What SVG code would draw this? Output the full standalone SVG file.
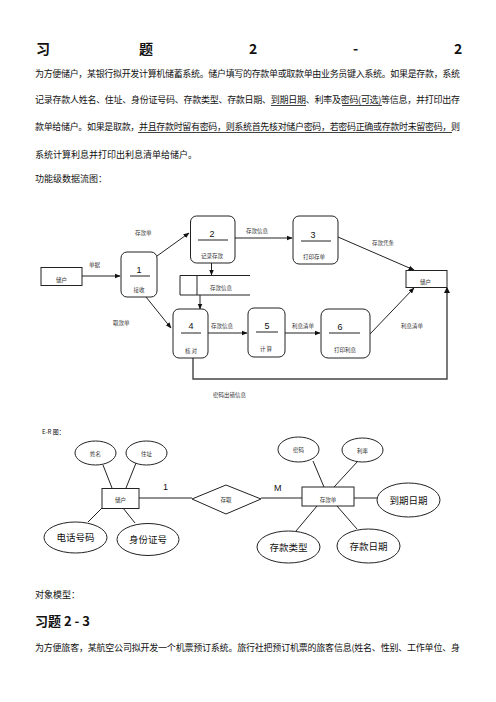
<svg xmlns="http://www.w3.org/2000/svg" width="496" height="702" viewBox="0 0 496 702">
<defs>
<style>
.t{font-family:"Noto Sans CJK SC","Noto Sans",sans-serif;fill:#111}
.p{font-size:9px}
.h{font-size:14px;font-weight:bold}
.s{font-size:5.5px;fill:#333}
.n{font-family:"Liberation Sans",sans-serif;font-size:9px;fill:#111}
.b{fill:#fff;stroke:#222;stroke-width:1}
.l{fill:none;stroke:#222;stroke-width:1}
.u{stroke:#111;stroke-width:0.8}
.e{font-size:9.5px}
</style>
<marker id="ah" viewBox="0 0 10 10" refX="9" refY="5" markerWidth="6" markerHeight="6" orient="auto">
<path d="M0,1 L10,5 L0,9 z" fill="#111"/>
</marker>
</defs>
<rect width="496" height="702" fill="#fff"/>

<g id="title">
<text class="t h" x="36" y="54">习</text>
<text class="t h" x="139" y="54">题</text>
<text class="t h" x="249" y="54">2</text>
<text class="t h" x="353" y="54">-</text>
<text class="t h" x="454" y="54">2</text>
</g>

<g id="para">
<text class="t p" x="35" y="77" textLength="425" lengthAdjust="spacing">为方便储户，某银行拟开发计算机储蓄系统。储户填写的存款单或取款单由业务员键入系统。如果是存款，系统</text>
<text class="t p" x="35" y="103" textLength="425" lengthAdjust="spacing">记录存款人姓名、住址、身份证号码、存款类型、存款日期、到期日期、利率及密码(可选)等信息，并打印出存</text>
<text class="t p" x="35" y="130" textLength="425" lengthAdjust="spacing">款单给储户。如果是取款，并且存款时留有密码，则系统首先核对储户密码，若密码正确或存款时未留密码，则</text>
<text class="t p" x="35" y="158">系统计算利息并打印出利息清单给储户。</text>
<text class="t p" x="35" y="182">功能级数据流图：</text>
<line class="u" x1="271" y1="105.5" x2="306" y2="105.5"/>
<line class="u" x1="342" y1="105.5" x2="382" y2="105.5"/>
<line class="u" x1="138" y1="132.5" x2="452" y2="132.5"/>
</g>

<g id="connectors">
<line class="l" x1="82" y1="276" x2="120" y2="276" marker-end="url(#ah)"/>
<text class="t s" x="89" y="267">单据</text>
<line class="l" x1="157" y1="256" x2="189" y2="233" marker-end="url(#ah)"/>
<text class="t s" x="135" y="235">存款单</text>
<line class="l" x1="235" y1="238" x2="292" y2="238" marker-end="url(#ah)"/>
<text class="t s" x="246" y="233">存款信息</text>
<line class="l" x1="338" y1="237" x2="414" y2="270" marker-end="url(#ah)"/>
<text class="t s" x="372" y="245">存款凭条</text>
<line class="l" x1="211.5" y1="263" x2="211.5" y2="275" marker-end="url(#ah)"/>
<line class="l" x1="200" y1="295" x2="200" y2="309" marker-end="url(#ah)"/>
<line class="l" x1="146" y1="297" x2="171" y2="328" marker-end="url(#ah)"/>
<text class="t s" x="113" y="325">取款单</text>
<line class="l" x1="208" y1="333" x2="247" y2="333" marker-end="url(#ah)"/>
<text class="t s" x="211" y="328">存款信息</text>
<line class="l" x1="285" y1="333" x2="320" y2="333" marker-end="url(#ah)"/>
<text class="t s" x="292" y="328">利息清单</text>
<line class="l" x1="370" y1="334" x2="414" y2="288" marker-end="url(#ah)"/>
<text class="t s" x="401" y="328">利息清单</text>
<polyline fill="none" stroke="#444" stroke-width="1.4" points="193,358 193,379 447,379 447,288"/>
<path d="M444,293 L447,287 L450,293 z" fill="#111"/>
<text class="t s" x="213" y="397">密码出错信息</text>
</g>

<g id="ext-left">
<rect class="b" x="41" y="267.5" width="41" height="18"/>
<text class="t s" x="61.5" y="282" text-anchor="middle">储户</text>
</g>
<g id="p1">
<rect class="b" x="121" y="252" width="36" height="45" rx="6"/>
<text class="n" x="139" y="273" text-anchor="middle">1</text>
<line class="l" x1="130" y1="276" x2="150" y2="276"/>
<text class="t s" x="139" y="292" text-anchor="middle">接收</text>
</g>
<g id="p2">
<rect class="b" x="190.5" y="216" width="44.5" height="47" rx="6"/>
<text class="n" x="212" y="237" text-anchor="middle">2</text>
<line class="l" x1="198" y1="240" x2="228" y2="240"/>
<text class="t s" x="212" y="258" text-anchor="middle">记录存款</text>
</g>
<g id="p3">
<rect class="b" x="293" y="216" width="45" height="48" rx="6"/>
<text class="n" x="313" y="238" text-anchor="middle">3</text>
<line class="l" x1="301" y1="241" x2="331" y2="241"/>
<text class="t s" x="314" y="259" text-anchor="middle">打印存单</text>
</g>
<g id="ext-right">
<rect class="b" x="406" y="270.5" width="41" height="17"/>
<text class="t s" x="420" y="284">储户</text>
</g>
<g id="store">
<polyline class="l" points="250,275.5 180,275.5 180,295 250,295"/>
<line class="l" x1="197" y1="275.5" x2="197" y2="295"/>
<text class="t s" x="210" y="290">存款信息</text>
</g>
<g id="p4">
<rect class="b" x="173" y="309" width="35" height="49" rx="6"/>
<text class="n" x="191" y="329" text-anchor="middle">4</text>
<line class="l" x1="181" y1="333" x2="201" y2="333"/>
<text class="t s" x="191" y="353" text-anchor="middle">核 对</text>
</g>
<g id="p5">
<rect class="b" x="248" y="308" width="37" height="49" rx="6"/>
<text class="n" x="267" y="329" text-anchor="middle">5</text>
<line class="l" x1="256" y1="332" x2="278" y2="332"/>
<text class="t s" x="266" y="351" text-anchor="middle">计 算</text>
</g>
<g id="p6">
<rect class="b" x="321" y="309" width="49" height="49" rx="7"/>
<text class="n" x="340" y="330" text-anchor="middle">6</text>
<line class="l" x1="329" y1="333" x2="360" y2="333"/>
<text class="t s" x="345" y="352" text-anchor="middle">打印利息</text>
</g>

<text class="t" x="42" y="434" font-size="6">E-R 图：</text>

<g id="er-connectors">
<line class="l" x1="103" y1="465" x2="112" y2="488"/>
<line class="l" x1="136" y1="463" x2="126" y2="488"/>
<line class="l" x1="102" y1="508" x2="88" y2="522"/>
<line class="l" x1="123" y1="508" x2="135" y2="523"/>
<line class="l" x1="139" y1="498" x2="192" y2="498"/>
<text class="n" x="163" y="490" font-size="7">1</text>
<line class="l" x1="261" y1="498" x2="302" y2="498"/>
<text class="n" x="274" y="491" font-size="7">M</text>
<line class="l" x1="313" y1="461" x2="324" y2="487"/>
<line class="l" x1="358" y1="461" x2="334" y2="487"/>
<line class="l" x1="354" y1="498" x2="377" y2="498"/>
<line class="l" x1="317" y1="506" x2="296" y2="531"/>
<line class="l" x1="337" y1="506" x2="357" y2="529"/>
</g>

<g id="er-name"><ellipse class="b" cx="95.5" cy="453" rx="20.5" ry="12"/><text class="t s" x="95.5" y="456" text-anchor="middle">姓名</text></g>
<g id="er-addr"><ellipse class="b" cx="146.5" cy="453" rx="20.5" ry="12"/><text class="t s" x="146.5" y="456" text-anchor="middle">住址</text></g>
<g id="er-depositor"><rect class="b" x="102" y="488.5" width="37" height="20"/><text class="t s" x="120.5" y="502" text-anchor="middle">储户</text></g>
<g id="er-phone"><ellipse class="b" cx="75.5" cy="537.5" rx="31.5" ry="15.5"/><text class="t e" x="75.5" y="541" text-anchor="middle">电话号码</text></g>
<g id="er-id"><ellipse class="b" cx="148" cy="539.5" rx="31" ry="16"/><text class="t e" x="148" y="543" text-anchor="middle">身份证号</text></g>
<g id="er-rel"><polygon class="b" points="192,499 226,485 261,499 226,514"/><text class="t s" x="226" y="502" text-anchor="middle">存取</text></g>
<g id="er-slip"><rect class="b" x="302" y="487" width="52" height="19"/><text class="t s" x="328" y="502" text-anchor="middle">存款单</text></g>
<g id="er-pwd"><ellipse class="b" cx="298.5" cy="449.5" rx="20.5" ry="12.5"/><text class="t s" x="298.5" y="452" text-anchor="middle">密码</text></g>
<g id="er-rate"><ellipse class="b" cx="362.5" cy="450" rx="20.5" ry="12"/><text class="t s" x="362.5" y="453" text-anchor="middle">利率</text></g>
<g id="er-due"><ellipse class="b" cx="408.5" cy="500" rx="31.5" ry="17"/><text class="t e" x="408.5" y="503.5" text-anchor="middle">到期日期</text></g>
<g id="er-type"><ellipse class="b" cx="288.5" cy="547" rx="31.5" ry="16"/><text class="t e" x="288.5" y="550.5" text-anchor="middle">存款类型</text></g>
<g id="er-date"><ellipse class="b" cx="368.5" cy="546" rx="31.5" ry="17"/><text class="t e" x="368.5" y="549.5" text-anchor="middle">存款日期</text></g>

<g id="footer">
<text class="t p" x="35" y="598">对象模型：</text>
<text class="t" x="35" y="626" font-size="13" font-weight="bold">习题 2 - 3</text>
<text class="t p" x="35" y="651" textLength="425" lengthAdjust="spacing">为方便旅客，某航空公司拟开发一个机票预订系统。旅行社把预订机票的旅客信息(姓名、性别、工作单位、身</text>
</g>
</svg>
